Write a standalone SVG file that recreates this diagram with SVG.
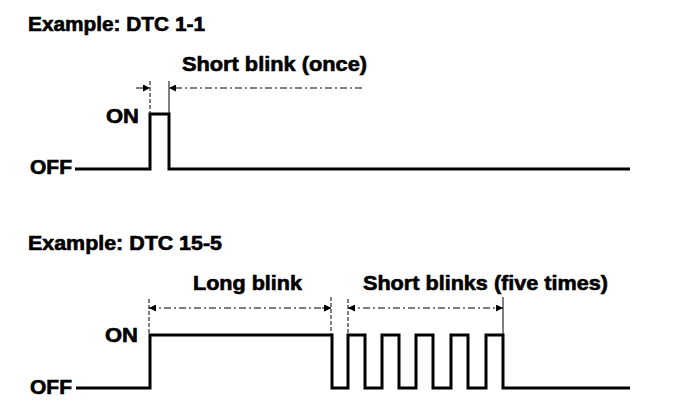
<svg xmlns="http://www.w3.org/2000/svg" width="688" height="420" viewBox="0 0 688 420">
<style>
  text { font-family: "Liberation Sans", Arial, sans-serif; font-weight: bold; font-size: 19.5px; fill: #000; stroke: #000; stroke-width: 0.6; }
  .wave { fill: none; stroke: #000; stroke-width: 3; stroke-linejoin: miter; }
  .dim { fill: none; stroke: #000; stroke-width: 1; stroke-dasharray: 7 3 2 3; }
  .ext { fill: none; stroke: #000; stroke-width: 1; stroke-dasharray: 4 2; }
  .solid { fill: none; stroke: #000; stroke-width: 1; }
</style>
<defs>
  <marker id="ah" viewBox="0 0 10 10" refX="10" refY="5" markerWidth="10" markerHeight="7" markerUnits="userSpaceOnUse" orient="auto-start-reverse">
    <path d="M0,0 L10,5 L0,10 z" fill="#000"/>
  </marker>
</defs>
<rect width="688" height="420" fill="#fff"/>

<g id="example1">
  <text x="28" y="31" textLength="177" lengthAdjust="spacingAndGlyphs">Example: DTC 1-1</text>
  <text id="label-short-once" x="182" y="71" textLength="185" lengthAdjust="spacingAndGlyphs">Short blink (once)</text>
  <text x="106" y="123" textLength="33" lengthAdjust="spacingAndGlyphs">ON</text>
  <text x="30" y="174" textLength="42" lengthAdjust="spacingAndGlyphs">OFF</text>
  <path id="wave1" class="wave" d="M75,169 H150 V114 H169 V169 H630"/>
</g>

<g id="example2">
  <text x="28" y="250" textLength="194" lengthAdjust="spacingAndGlyphs">Example: DTC 15-5</text>
  <text id="label-long" x="193" y="290" textLength="109" lengthAdjust="spacingAndGlyphs">Long blink</text>
  <text id="label-short-five" x="363" y="290" textLength="245" lengthAdjust="spacingAndGlyphs">Short blinks (five times)</text>
  <text x="105" y="342" textLength="33" lengthAdjust="spacingAndGlyphs">ON</text>
  <text x="30" y="394" textLength="42" lengthAdjust="spacingAndGlyphs">OFF</text>
  <path id="wave2" class="wave" d="M76,388 H150 V335 H332 V388 H348 V335 H365 V388 H382 V335 H399 V388 H416 V335 H433 V388 H451 V335 H468 V388 H486 V335 H503 V388 H630"/>
</g>

<g id="connectors">
  <!-- example 1 dimension -->
  <line class="ext" x1="150" y1="81" x2="150" y2="113"/>
  <line class="solid" x1="169" y1="81" x2="169" y2="113"/>
  <line class="dim" x1="136" y1="88" x2="150" y2="88" marker-end="url(#ah)"/>
  <line class="dim" x1="362" y1="88" x2="169" y2="88" marker-end="url(#ah)"/>
  <!-- example 2 long blink -->
  <line class="ext" x1="149" y1="299" x2="149" y2="334"/>
  <line class="ext" x1="331" y1="297" x2="331" y2="334"/>
  <line class="dim" x1="149" y1="308" x2="331" y2="308" marker-start="url(#ah)" marker-end="url(#ah)"/>
  <!-- example 2 short blinks -->
  <line class="ext" x1="348" y1="299" x2="348" y2="334"/>
  <line class="solid" x1="503" y1="297" x2="503" y2="334"/>
  <line class="dim" x1="322" y1="308" x2="331" y2="308" marker-end="url(#ah)"/>
  <line class="dim" x1="348" y1="308" x2="503" y2="308" marker-start="url(#ah)" marker-end="url(#ah)"/>
</g>
</svg>
